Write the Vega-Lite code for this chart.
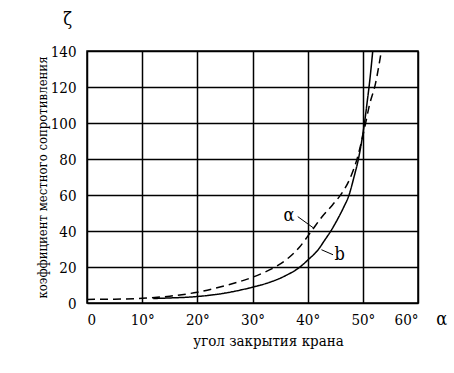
{
  "$schema": "https://vega.github.io/schema/vega-lite/v6.json",
  "width": 331,
  "height": 252,
  "autosize": "none",
  "padding": {"left": 87, "top": 51, "right": 36, "bottom": 70},
  "background": "white",
  "config": {
    "font": "DejaVu Serif Condensed",
    "view": {"stroke": "black", "strokeWidth": 1.5}
  },
  "datasets": {
    "curves": [
      {"angle": 0, "zeta": 2.0, "curve": "a"},
      {"angle": 5, "zeta": 2.1, "curve": "a"},
      {"angle": 10, "zeta": 2.6, "curve": "a"},
      {"angle": 15, "zeta": 3.8, "curve": "a"},
      {"angle": 20, "zeta": 6.0, "curve": "a"},
      {"angle": 25, "zeta": 9.6, "curve": "a"},
      {"angle": 30, "zeta": 14.3, "curve": "a"},
      {"angle": 32, "zeta": 16.8, "curve": "a"},
      {"angle": 34.3, "zeta": 20.3, "curve": "a"},
      {"angle": 36.5, "zeta": 25, "curve": "a"},
      {"angle": 38.5, "zeta": 31, "curve": "a"},
      {"angle": 40.7, "zeta": 40, "curve": "a"},
      {"angle": 42.5, "zeta": 47.5, "curve": "a"},
      {"angle": 44.5, "zeta": 54.5, "curve": "a"},
      {"angle": 46.2, "zeta": 61, "curve": "a"},
      {"angle": 47.5, "zeta": 68, "curve": "a"},
      {"angle": 48.3, "zeta": 74, "curve": "a"},
      {"angle": 49.0, "zeta": 80.5, "curve": "a"},
      {"angle": 49.7, "zeta": 89, "curve": "a"},
      {"angle": 50.3, "zeta": 97, "curve": "a"},
      {"angle": 51.2, "zeta": 110, "curve": "a"},
      {"angle": 52.3, "zeta": 122, "curve": "a"},
      {"angle": 53.3, "zeta": 139, "curve": "a"},
      {"angle": 12, "zeta": 2.5, "curve": "b"},
      {"angle": 15, "zeta": 2.8, "curve": "b"},
      {"angle": 20, "zeta": 3.6, "curve": "b"},
      {"angle": 25, "zeta": 5.5, "curve": "b"},
      {"angle": 30, "zeta": 8.8, "curve": "b"},
      {"angle": 33, "zeta": 11.4, "curve": "b"},
      {"angle": 36, "zeta": 15.2, "curve": "b"},
      {"angle": 38.6, "zeta": 20, "curve": "b"},
      {"angle": 40, "zeta": 23.8, "curve": "b"},
      {"angle": 42, "zeta": 30, "curve": "b"},
      {"angle": 43, "zeta": 34.5, "curve": "b"},
      {"angle": 44.2, "zeta": 40, "curve": "b"},
      {"angle": 45.5, "zeta": 47, "curve": "b"},
      {"angle": 46.5, "zeta": 53, "curve": "b"},
      {"angle": 47.5, "zeta": 60, "curve": "b"},
      {"angle": 48.4, "zeta": 70, "curve": "b"},
      {"angle": 49.2, "zeta": 80, "curve": "b"},
      {"angle": 49.8, "zeta": 90, "curve": "b"},
      {"angle": 50.3, "zeta": 100, "curve": "b"},
      {"angle": 50.8, "zeta": 112, "curve": "b"},
      {"angle": 51.2, "zeta": 122, "curve": "b"},
      {"angle": 51.8, "zeta": 140, "curve": "b"}
    ],
    "leaders": [
      {"angle": 38.2, "zeta": 48.0, "curve": "a"},
      {"angle": 41.0, "zeta": 41.8, "curve": "a"},
      {"angle": 42.5, "zeta": 29.6, "curve": "b"},
      {"angle": 44.6, "zeta": 26.8, "curve": "b"}
    ],
    "labels": [
      {"angle": 36.6, "zeta": 48.5, "text": "α"},
      {"angle": 45.8, "zeta": 26.5, "text": "b"},
      {"angle": 64.3, "zeta": -9.5, "text": "α"},
      {"angle": -3.5, "zeta": 157, "text": "ζ"}
    ]
  },
  "encoding": {
    "x": {"field": "angle", "type": "quantitative",
      "scale": {"domain": [0, 60], "nice": false, "zero": false},
      "axis": {"values": [0, 10, 20, 30, 40, 50, 60], "labelExpr": "datum.value == 0 ? '0' : datum.value + '°'",
        "grid": true, "gridColor": "black", "gridWidth": 1.5, "gridOpacity": 1, "domain": false, "ticks": false,
        "labelOverlap": false, "labelFont": "DejaVu Serif Condensed", "labelFontSize": 15, "labelColor": "black",
        "titleFont": "DejaVu Serif Condensed", "titleFontSize": 15, "titleFontWeight": "normal", "titleColor": "black",
        "labelPadding": 9, "title": "угол закрытия крана", "titleX": 181, "titleY": 42, "titleBaseline": "alphabetic"}},
    "y": {"field": "zeta", "type": "quantitative",
      "scale": {"domain": [0, 140], "nice": false},
      "axis": {"values": [0, 20, 40, 60, 80, 100, 120, 140], "labelPadding": 11,
        "grid": true, "gridColor": "black", "gridWidth": 1.5, "gridOpacity": 1, "domain": false, "ticks": false,
        "labelOverlap": false, "labelFont": "DejaVu Serif Condensed", "labelFontSize": 15, "labelColor": "black",
        "titleFont": "DejaVu Serif Condensed", "titleFontSize": 13, "titleFontWeight": "normal", "titleColor": "black",
        "title": "коэффициент местного сопротивления", "titleX": -45, "titleY": 126, "titleBaseline": "middle", "titleAlign": "center"}}
  },
  "layer": [
    {
      "data": {"name": "curves"},
      "mark": {"type": "line", "color": "black", "strokeWidth": 1.5, "interpolate": "monotone", "clip": false},
      "encoding": {
        "strokeDash": {"field": "curve", "type": "nominal",
          "scale": {"domain": ["a", "b"], "range": [[8, 5], [1, 0]]}, "legend": null},
        "detail": {"field": "curve"}
      }
    },
    {
      "data": {"name": "leaders"},
      "mark": {"type": "line", "color": "black", "strokeWidth": 1},
      "encoding": {
        "detail": {"field": "curve"}
      }
    },
    {
      "data": {"name": "labels"},
      "mark": {"type": "text", "font": "DejaVu Serif Condensed", "fontSize": 18, "color": "black", "baseline": "middle", "align": "center"},
      "encoding": {
        "text": {"field": "text"}
      }
    }
  ]
}
